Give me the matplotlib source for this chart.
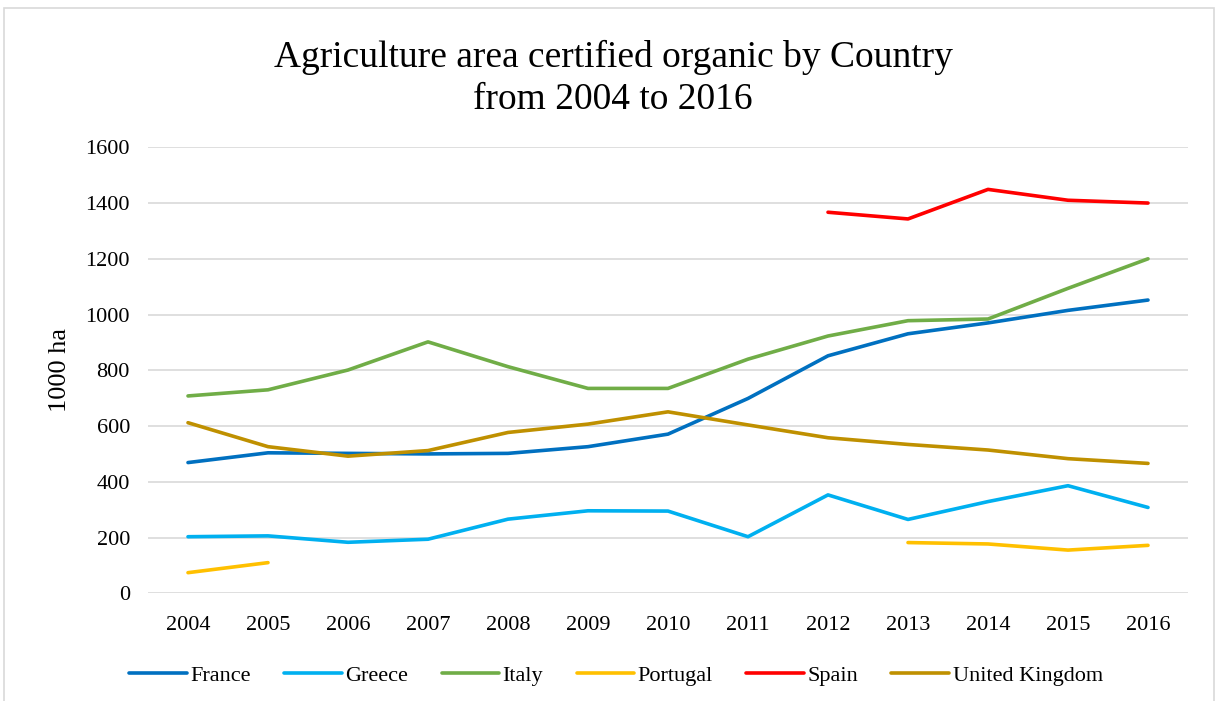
import matplotlib
matplotlib.use("Agg")
import matplotlib.pyplot as plt
from matplotlib.patches import Rectangle
import numpy as np

years = [2004, 2005, 2006, 2007, 2008, 2009, 2010, 2011, 2012, 2013, 2014, 2015, 2016]
france = [469, 504, 502, 500, 502, 526, 571, 699, 852, 931, 970, 1015, 1052]
greece = [203, 206, 183, 194, 266, 296, 295, 203, 353, 265, 329, 386, 308]
italy = [708, 730, 801, 902, 813, 735, 735, 840, 923, 978, 984, 1094, 1200]
portugal = [74, 110, None, None, None, None, None, None, None, 182, 177, 155, 172]
spain = [None, None, None, None, None, None, None, None, 1367, 1343, 1449, 1410, 1400]
uk = [612, 526, 492, 512, 577, 607, 651, 604, 558, 534, 514, 483, 466]

series_names = ["France", "Greece", "Italy", "Portugal", "Spain", "United Kingdom"]
series_values = [france, greece, italy, portugal, spain, uk]
colors = ["#0070C0", "#00B0F0", "#70AD47", "#FFC000", "#FF0000", "#BF9000"]
yticks = [0, 200, 400, 600, 800, 1000, 1200, 1400, 1600]

plt.rcParams['font.family'] = ['Liberation Serif', 'DejaVu Serif']

W, H = 1218, 701
fig = plt.figure(figsize=(W / 100, H / 100), dpi=100)
ax = fig.add_axes([148 / W, 1 - 593.3 / H, (1188 - 148) / W, (593.3 - 147.3) / H])

for name, vals, c in zip(series_names, series_values, colors):
    y = np.array([np.nan if v is None else v for v in vals], dtype=float)
    ax.plot(years, y, color=c, lw=2.6, label=name, solid_capstyle='round', solid_joinstyle='round')

ax.set_xlim(2003.5, 2016.5)
ax.set_ylim(0, 1600)
ax.set_yticks(yticks)
ax.set_xticks(years)
ax.set_xticklabels([str(y) for y in years])
ax.grid(axis='y', color='#D9D9D9', lw=1.2)
ax.set_axisbelow(True)
for s in ax.spines.values():
    s.set_visible(False)
ax.tick_params(axis='both', length=0, labelsize=16, colors='#000000')
ax.tick_params(axis='y', pad=13)
ax.tick_params(axis='x', pad=16)

fig.text(60 / W, 1 - 370 / H, "1000 ha", rotation=90, ha='center', va='center', fontsize=19)
fig.text(613 / W, 1 - 78 / H, "Agriculture area certified organic by Country\nfrom 2004 to 2016",
         ha='center', va='center', fontsize=27, linespacing=1.28)

handles, labels = ax.get_legend_handles_labels()
fig.legend(handles, labels, loc='center', bbox_to_anchor=(616 / W, 1 - 676 / H), ncol=6,
           frameon=False, fontsize=16, handlelength=2.6, handletextpad=0.15, columnspacing=1.5)

fig.patches.append(Rectangle((4 / W, -0.01), (1214 - 4) / W, (1 - 8 / H) + 0.01, transform=fig.transFigure,
                             fill=False, edgecolor='#D9D9D9', lw=1.2))

fig.savefig("out.png", dpi=100)
